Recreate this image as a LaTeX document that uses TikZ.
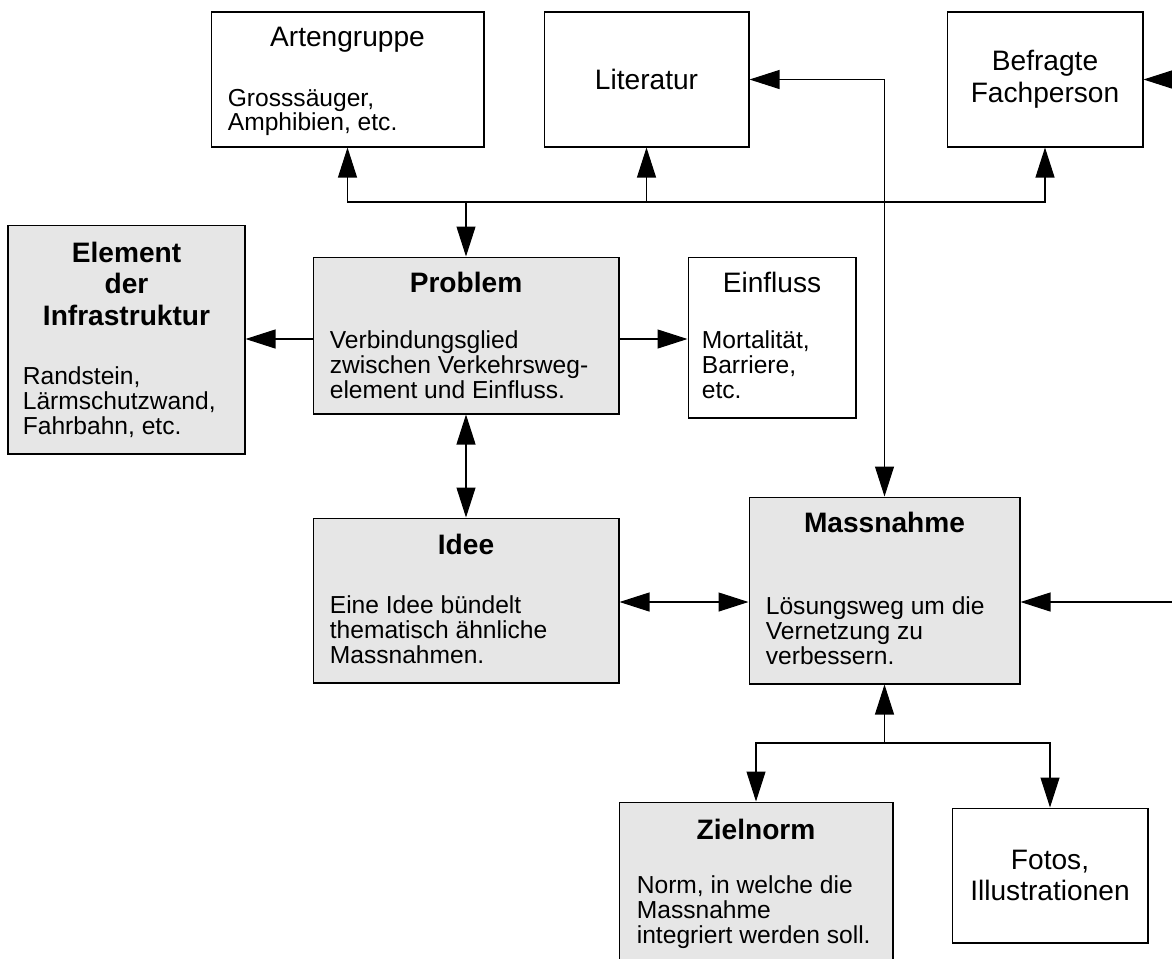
\documentclass[tikz,border=0pt]{standalone}
\usepackage{fontspec}
\setmainfont{Liberation Sans}
\usetikzlibrary{arrows.meta,positioning}
\definecolor{boxgrey}{HTML}{E6E6E6}

\begin{document}
\begin{tikzpicture}[x=0.02cm,y=-0.02cm,
  box/.style={draw,rectangle,line width=0.6pt,inner sep=0pt},
  greybox/.style={box,fill=boxgrey},
  title/.style={font=\fontsize{16}{18}\selectfont,align=center,inner sep=0pt},
  head/.style={font=\fontsize{16}{18}\selectfont\bfseries,align=center,inner sep=0pt},
  body/.style={font=\fontsize{14}{14.2}\selectfont,align=left,inner sep=0pt},
  arr/.style={-{Triangle[length=0.6cm,width=0.38cm]},line width=0.6pt},
  darr/.style={{Triangle[length=0.6cm,width=0.38cm]}-{Triangle[length=0.6cm,width=0.38cm]},line width=0.6pt}]
  \clip (0,0) rectangle (1172,958);

  % top row
  \node[box,minimum width=5.46cm,minimum height=2.7cm] (arten) at (347.5,79.5) {};
  \node[title,anchor=north] (artenT) at ([shift={(0,15)}]arten.north) {Artengruppe};
  \node[body,anchor=north west] (artenB) at ([shift={(17,77)}]arten.north west) {Grosssäuger,\\Amphibien, etc.};
  \node[box,title,minimum width=4.1cm,minimum height=2.7cm] (lit) at (646.5,79.5) {Literatur};
  \node[box,title,minimum width=3.92cm,minimum height=2.7cm] (fach) at (1045,79.5) {Befragte\\Fachperson};

  % middle row
  \node[greybox,minimum width=4.74cm,minimum height=4.58cm] (elem) at (126.5,339.5) {};
  \node[head,anchor=north] (elemT) at ([shift={(0,17)}]elem.north) {Element\\der\\Infrastruktur};
  \node[body,anchor=north west] (elemB) at ([shift={(15,142)}]elem.north west) {Randstein,\\Lärmschutzwand,\\Fahrbahn, etc.};

  \node[greybox,minimum width=6.12cm,minimum height=3.14cm] (prob) at (466,335.5) {};
  \node[head,anchor=north] (probT) at ([shift={(0,15)}]prob.north) {Problem};
  \node[body,anchor=north west] (probB) at ([shift={(17,74)}]prob.north west) {Verbindungsglied\\zwischen Verkehrsweg-\\element und Einfluss.};

  \node[box,minimum width=3.36cm,minimum height=3.22cm] (einf) at (772,337.5) {};
  \node[title,anchor=north] (einfT) at ([shift={(0,15)}]einf.north) {Einfluss};
  \node[body,anchor=north west] (einfB) at ([shift={(14,74)}]einf.north west) {Mortalität,\\Barriere,\\etc.};

  % lower row
  \node[greybox,minimum width=6.12cm,minimum height=3.3cm] (idee) at (466,600.5) {};
  \node[head,anchor=north] (ideeT) at ([shift={(0,16)}]idee.north) {Idee};
  \node[body,anchor=north west] (ideeB) at ([shift={(17,78)}]idee.north west) {Eine Idee bündelt\\thematisch ähnliche\\Massnahmen.};

  \node[greybox,minimum width=5.42cm,minimum height=3.74cm] (mass) at (884.5,590.5) {};
  \node[head,anchor=north] (massT) at ([shift={(0,15)}]mass.north) {Massnahme};
  \node[body,anchor=north west] (massB) at ([shift={(17,100)}]mass.north west) {Lösungsweg um die\\Vernetzung zu\\verbessern.};

  % bottom row
  \node[greybox,minimum width=5.48cm,minimum height=3.96cm] (ziel) at (756,901) {};
  \node[head,anchor=north] (zielT) at ([shift={(0,17)}]ziel.north) {Zielnorm};
  \node[body,anchor=north west] (zielB) at ([shift={(18,74)}]ziel.north west) {Norm, in welche die\\Massnahme\\integriert werden soll.};
  \node[box,title,minimum width=3.92cm,minimum height=2.7cm] (fotos) at (1050,875.5) {Fotos,\\Illustrationen};

  % junctions and loose ends
  \coordinate (bus) at (466,202);
  \coordinate (split) at (884.5,743);
  \coordinate (feedA) at (1200,79.5);
  \coordinate (feedB) at (1200,602);

  \draw[arr] (bus) -- (prob.north);
  \draw[arr] (bus) -| (arten.south);
  \draw[arr] (bus) -| (lit.south);
  \draw[arr] (bus) -| (fach.south);
  \draw[darr] (lit.east) -| (mass.north);
  \draw[arr] (feedA) -- (fach.east);

  \draw[arr] (prob.west |- 0,339) -- (elem.east |- 0,339);
  \draw[arr] (prob.east |- 0,339) -- (einf.west |- 0,339);
  \draw[darr] (prob.south) -- (idee.north);
  \draw[darr] (idee.east |- feedB) -- (mass.west |- feedB);
  \draw[arr] (feedB) -- (mass.east |- feedB);

  \draw[arr] (split) -- (mass.south);
  \draw[arr] (split) -| (ziel.north);
  \draw[arr] (split) -| (fotos.north);
\end{tikzpicture}
\end{document}
